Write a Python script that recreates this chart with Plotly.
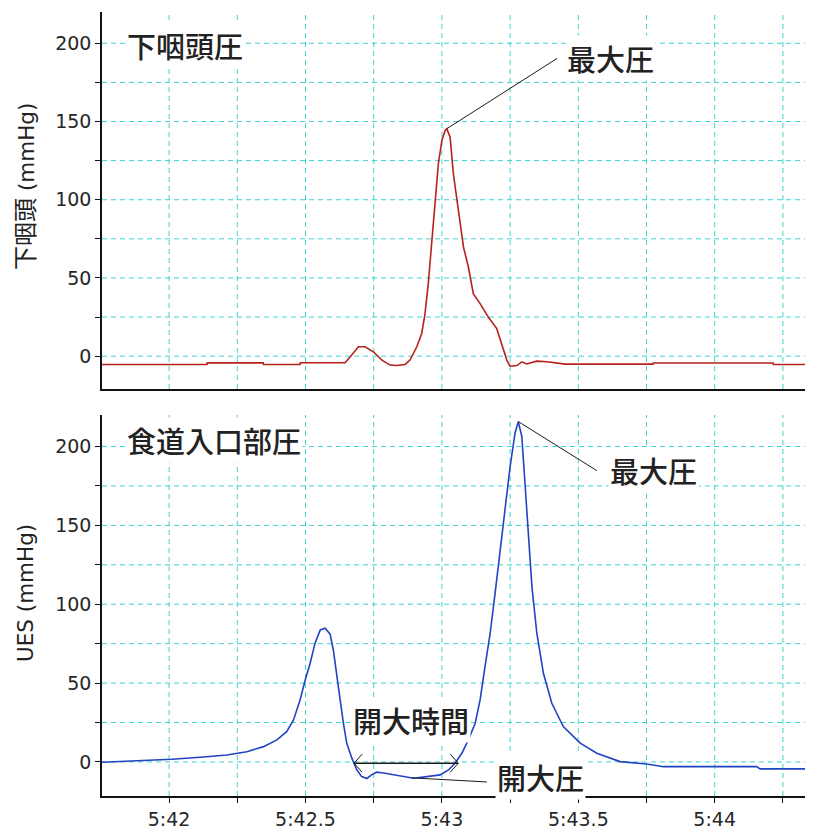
import plotly.graph_objects as go

# ---------------- data (time in seconds after 5:00, pressure in mmHg) ----------------
t_pharynx = [341.754, 342.139, 342.140, 342.345, 342.346, 342.480, 342.481, 342.645, 342.664,
             342.694, 342.718, 342.749, 342.780, 342.810, 342.835, 342.865, 342.883, 342.908,
             342.926, 342.938, 342.950, 342.963, 342.975, 342.987, 343.000, 343.012, 343.018,
             343.030, 343.042, 343.055, 343.067, 343.079, 343.097, 343.115, 343.140, 343.170,
             343.201, 343.220, 343.238, 343.250, 343.275, 343.293, 343.311, 343.348, 343.385,
             343.452, 343.774, 343.775, 344.214, 344.215, 344.331]
p_pharynx = [-5.3, -5.3, -4.3, -4.3, -5.3, -5.3, -4.2, -4.2, -0.4,
             6.0, 6.0, 2.8, -2.5, -5.7, -6.0, -5.3, -2.5, 6.0,
             14.5, 27.0, 46.4, 74.0, 99.6, 123.0, 138.0, 144.3, 145.4,
             140.0, 116.6, 99.6, 82.6, 69.8, 57.0, 40.0, 33.6, 25.0,
             17.6, 8.0, -2.5, -6.4, -6.0, -3.6, -5.0, -3.2, -3.6,
             -5.1, -5.1, -4.4, -4.4, -5.3, -5.3]

t_ues = [341.753, 341.912, 342.010, 342.114, 342.212, 342.285, 342.346, 342.395, 342.431,
         342.456, 342.480, 342.499, 342.517, 342.535, 342.554, 342.572, 342.590, 342.602,
         342.615, 342.627, 342.639, 342.651, 342.670, 342.688, 342.706, 342.725, 342.743,
         342.761, 342.786, 342.822, 342.865, 342.896, 342.945, 342.993, 343.024, 343.048,
         343.073, 343.097, 343.122, 343.140, 343.158, 343.177, 343.195, 343.213, 343.232,
         343.250, 343.268, 343.280, 343.293, 343.305, 343.317, 343.330, 343.348, 343.372,
         343.403, 343.445, 343.507, 343.568, 343.653, 343.751, 343.812, 344.154, 344.166,
         344.331]
p_ues = [-0.2, 0.8, 1.7, 3.0, 4.4, 6.5, 9.7, 14.0, 19.2,
         26.6, 39.3, 52.0, 62.6, 75.3, 83.7, 84.8, 81.0, 71.0,
         56.0, 39.3, 24.5, 12.0, 2.3, -5.0, -9.3, -10.5, -8.0,
         -6.5, -7.0, -8.2, -9.3, -10.3, -9.3, -8.2, -5.1, -0.8,
         5.5, 14.0, 24.5, 39.3, 60.4, 81.6, 107.0, 134.4, 161.9,
         187.3, 208.4, 215.8, 206.3, 176.7, 140.8, 111.2, 81.6, 56.2,
         37.2, 22.4, 11.9, 5.5, 0.2, -1.3, -3.0, -3.0, -4.4,
         -4.4]

x_tickvals = [341.75, 342.0, 342.25, 342.5, 342.75, 343.0, 343.25, 343.5, 343.75, 344.0, 344.25]
x_ticktext = ["", "5:42", "", "5:42.5", "", "5:43", "", "5:43.5", "", "5:44", ""]
y_tickvals = [0, 25, 50, 75, 100, 125, 150, 175, 200]
y_ticktext = ["0", "", "50", "", "100", "", "150", "", "200"]

title_top = "<span style='font-size:24px'>下咽頭</span> (mmHg)"
title_bottom = "UES (mmHg)"
label_top = "下咽頭圧"
label_bottom = "食道入口部圧"
label_max = "最大圧"
label_open_time = "開大時間"
label_open_press = "開大圧"

# open-time interval (s) and level
open_start, open_end, open_level = 342.678, 343.060, -0.8

# ---------------- figure ----------------
GRID = "#3fd2d2"
AX = "#111111"
TXT = "#222222"
CJK = "Noto Sans CJK JP"
TICKFONT = dict(family="DejaVu Sans", size=19, color="#262626")

fig = go.Figure()
fig.add_trace(go.Scatter(x=t_pharynx, y=p_pharynx, mode="lines",
                         line=dict(color="#b8201c", width=1.6),
                         xaxis="x", yaxis="y", showlegend=False, hoverinfo="skip"))
fig.add_trace(go.Scatter(x=t_ues, y=p_ues, mode="lines",
                         line=dict(color="#2144c4", width=1.6),
                         xaxis="x2", yaxis="y2", showlegend=False, hoverinfo="skip"))

xr = [341.754, 344.331]
common_x = dict(range=xr, tickmode="array", tickvals=x_tickvals, ticktext=x_ticktext,
                showgrid=False, showline=True, linecolor=AX, linewidth=1.5, zeroline=False,
                tickfont=TICKFONT, tickcolor=AX, ticklen=5, automargin=False)
common_y = dict(tickmode="array", tickvals=y_tickvals, ticktext=y_ticktext,
                showgrid=False, showline=True, linecolor=AX, linewidth=1.5, zeroline=False,
                tickfont=TICKFONT, ticks="outside", tickcolor=AX, ticklen=5,
                automargin=False)
title_font = dict(family="DejaVu Sans, " + CJK, size=21.5, color=TXT)

# the page body adds an 8px margin, so the figure is sized to fit the 813x829 window
fig.update_layout(
    width=805, height=821,
    margin=dict(l=94, r=8, t=4, b=33, autoexpand=False),
    paper_bgcolor="white", plot_bgcolor="white",
    xaxis=dict(domain=[0, 1], anchor="y", showticklabels=False, ticks="", **common_x),
    xaxis2=dict(domain=[0, 1], anchor="y2", matches="x", ticks="outside", **common_x),
    yaxis=dict(domain=[0.5191, 1.0], anchor="x", range=[-21, 220], **common_y),
    yaxis2=dict(domain=[0.0, 0.486], anchor="x2", range=[-21.6, 220], **common_y),
)

# dashed cyan grid at every tick position (both panels)
grid_line = dict(color=GRID, width=1, dash="5px,4px")
shapes = []
for xa, ya in (("x", "y"), ("x2", "y2")):
    for xv in x_tickvals[1:]:
        shapes.append(dict(type="line", xref=xa, yref=ya + " domain", x0=xv, x1=xv,
                           y0=0, y1=1, line=grid_line, layer="below"))
    for yv in y_tickvals:
        shapes.append(dict(type="line", xref=xa + " domain", yref=ya, x0=0, x1=1,
                           y0=yv, y1=yv, line=grid_line, layer="below"))

# peaks from data
i_top = p_pharynx.index(max(p_pharynx))
i_bot = p_ues.index(max(p_ues))
peak_top = (t_pharynx[i_top], p_pharynx[i_top])
peak_bot = (t_ues[i_bot], p_ues[i_bot])

line_style = dict(color="#1a1a1a", width=1)
shapes += [
    dict(type="line", xref="x", yref="y", x0=peak_top[0], y0=peak_top[1],
         x1=343.422, y1=190.3, line=line_style),
    dict(type="line", xref="x2", yref="y2", x0=peak_bot[0], y0=peak_bot[1],
         x1=343.568, y1=184.7, line=line_style),
    dict(type="line", xref="x2", yref="y2", x0=open_start, y0=open_level,
         x1=open_end, y1=open_level, line=dict(color="#1a1a1a", width=1.5)),
    dict(type="path", xref="x2", yref="y2", xsizemode="pixel", ysizemode="pixel",
         xanchor=open_start, yanchor=open_level, path="M 8,9 L 0,0 L 8,-9",
         line=line_style),
    dict(type="path", xref="x2", yref="y2", xsizemode="pixel", ysizemode="pixel",
         xanchor=open_end, yanchor=open_level, path="M -8,9 L 0,0 L -8,-9",
         line=line_style),
    dict(type="line", xref="x2", yref="y2", x0=342.890, y0=-10.1,
         x1=343.165, y1=-12.7, line=line_style),
]
fig.update_layout(shapes=shapes)

afont = dict(family=CJK, size=29, color=TXT, weight=500)
annotations = [
    # y-axis titles (rotated)
    dict(text=title_top, x=-0.108, y=0.777, xref="paper", yref="paper", textangle=-90,
         xanchor="center", yanchor="middle", showarrow=False, font=title_font),
    dict(text=title_bottom, x=-0.108, y=0.259, xref="paper", yref="paper", textangle=-90,
         xanchor="center", yanchor="middle", showarrow=False, font=title_font),
    # panel labels and callouts
    dict(text=label_top, x=341.839, y=199, xref="x", yref="y",
         xanchor="left", yanchor="middle", showarrow=False, font=afont, bgcolor="white"),
    dict(text=label_bottom, x=341.839, y=204, xref="x2", yref="y2",
         xanchor="left", yanchor="middle", showarrow=False, font=afont, bgcolor="white"),
    dict(text=label_max, x=343.452, y=190.3, xref="x", yref="y",
         xanchor="left", yanchor="middle", showarrow=False, font=afont, bgcolor="white"),
    dict(text=label_max, x=343.609, y=185, xref="x2", yref="y2",
         xanchor="left", yanchor="middle", showarrow=False, font=afont, bgcolor="white"),
    dict(text=label_open_time, x=342.887, y=26.6, xref="x2", yref="y2",
         xanchor="center", yanchor="middle", showarrow=False, font=afont, bgcolor="white"),
    dict(text=label_open_press, x=343.195, y=-9.5, xref="x2", yref="y2",
         xanchor="left", yanchor="middle", showarrow=False, font=afont, bgcolor="white"),
]
fig.update_layout(annotations=annotations)

fig.write_html("out.html")
